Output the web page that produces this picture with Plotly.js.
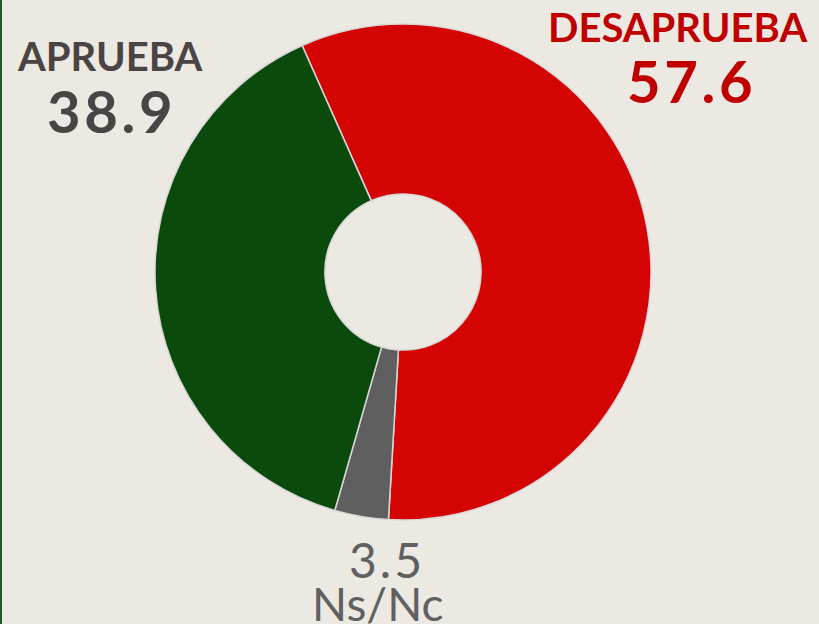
<!DOCTYPE html>
<html>
<head>
<meta charset="utf-8">
<script src="https://cdn.plot.ly/plotly-3.0.1.min.js"></script>
<style>
html,body{margin:0;padding:0;background:#ECE8E2;}
#chart{width:819px;height:624px;}
#edge{position:absolute;left:0;top:0;width:2px;height:624px;background:#1E5A1E;z-index:10;}
</style>
</head>
<body>
<div id="edge"></div>
<div id="chart"></div>
<script>
const categories = ["DESAPRUEBA", "Ns/Nc", "APRUEBA"];
const values = [57.6, 3.5, 38.9];
const sliceColors = ["#D40404", "#5F5F5F", "#0A4A0C"];

const W = 819, H = 624;
const cx = 403, cy = 272, R = 248;

const trace = {
  type: "pie",
  labels: categories,
  values: values,
  sort: false,
  direction: "clockwise",
  rotation: -24,
  hole: 0.315,
  textinfo: "none",
  hoverinfo: "label+value",
  marker: {colors: sliceColors, line: {color: "#D8D8D8", width: 1.5}},
  domain: {x: [(cx - R) / W, (cx + R) / W], y: [(H - cy - R) / H, (H - cy + R) / H]},
  showlegend: false
};

const fam = "Lato, 'Open Sans', sans-serif";
const spaced = v => v.toFixed(1).split("").join("\u200A");
const layout = {
  width: W, height: H,
  margin: {l: 0, r: 0, t: 0, b: 0},
  paper_bgcolor: "#ECE8E2",
  plot_bgcolor: "#ECE8E2",
  annotations: [
    {text: "<b>" + categories[2] + "</b>", x: 110, y: 56, showarrow: false,
     font: {family: fam, size: 40, color: "#4A4444"}},
    {text: "<b>" + spaced(values[2]) + "</b>", x: 110, y: 110, showarrow: false,
     font: {family: fam, size: 58, color: "#4A4444"}},
    {text: "<b>" + categories[0] + "</b>", x: 677, y: 27, showarrow: false,
     font: {family: fam, size: 40, color: "#C00000"}},
    {text: "<b>" + spaced(values[0]) + "</b>", x: 690, y: 81, showarrow: false,
     font: {family: fam, size: 58, color: "#C00000"}},
    {text: spaced(values[1]), x: 385, y: 559, showarrow: false,
     font: {family: fam, size: 48, color: "#606060"}},
    {text: categories[1], x: 378, y: 603, showarrow: false,
     font: {family: fam, size: 46, color: "#606060"}}
  ]
};
layout.annotations.forEach(a => {
  a.xref = "paper"; a.yref = "paper";
  a.x = a.x / W; a.y = 1 - a.y / H;
  a.xanchor = "center"; a.yanchor = "middle";
});

Plotly.newPlot("chart", [trace], layout, {displayModeBar: false});
</script>
</body>
</html>
